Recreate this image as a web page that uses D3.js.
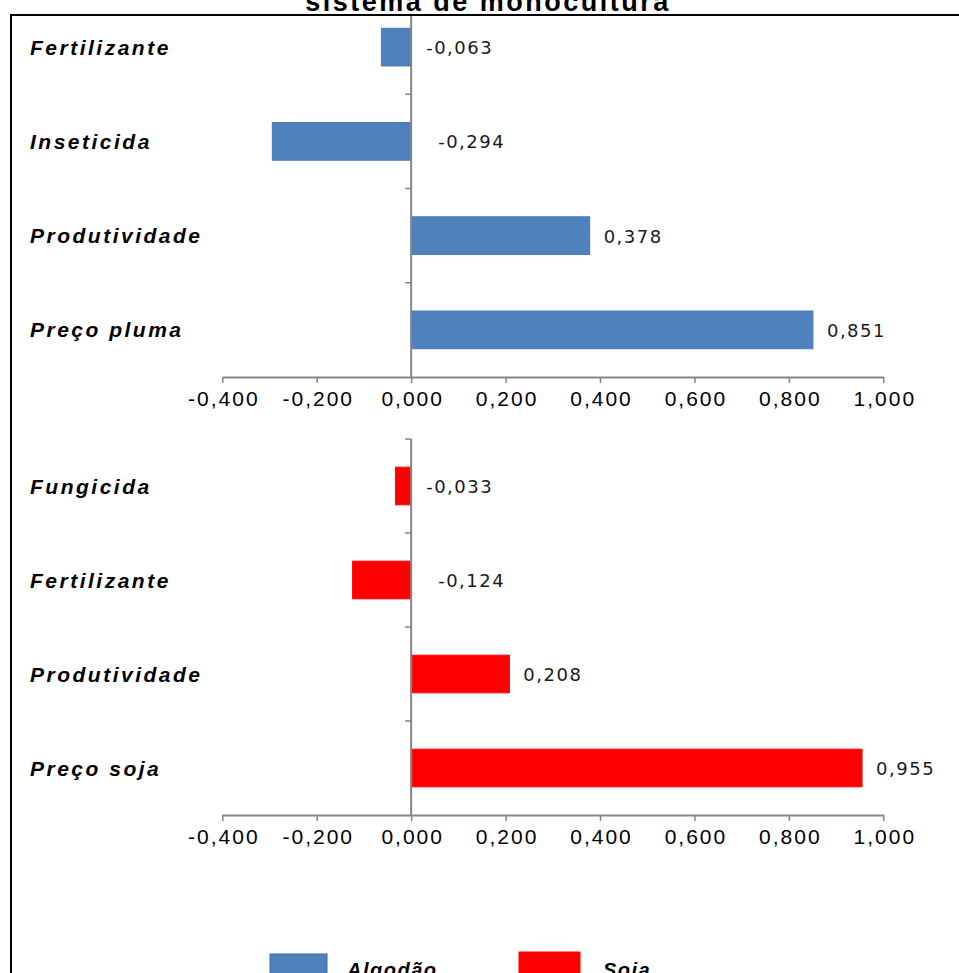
<!DOCTYPE html>
<html>
<head>
<meta charset="utf-8">
<script src="https://cdn.jsdelivr.net/npm/d3@7"></script>
<style>
  html, body { margin: 0; padding: 0; background: #fff; overflow: hidden; }
  svg { display: block; }
</style>
</head>
<body>
<svg id="chart" width="959" height="973"></svg>
<script>
// ---- data ----
const titleText = "sistema de monocultura";
const cottonCategories = ["Fertilizante", "Inseticida", "Produtividade", "Preço pluma"];
const cottonValues = [-0.063, -0.294, 0.378, 0.851];
const soyCategories = ["Fungicida", "Fertilizante", "Produtividade", "Preço soja"];
const soyValues = [-0.033, -0.124, 0.208, 0.955];
const xTickValues = [-0.4, -0.2, 0.0, 0.2, 0.4, 0.6, 0.8, 1.0];
const legendLabels = ["Algodão", "Soja"];

// ---- styles ----
const blue = "#4F81BD", blueStroke = "#4A7BB5";
const red = "#FF0000";
const axisColor = "#858585";

const svg = d3.select("#chart");
const ptBR = d3.formatLocale({decimal: ",", thousands: ".", grouping: [3], currency: ["", ""], minus: "-"});
const fmt = ptBR.format(".3f");

// clip for area inside the frame
svg.append("defs").append("clipPath").attr("id", "frameClip")
  .append("rect").attr("x", 12).attr("y", 16).attr("width", 959).attr("height", 973);

// title (partly cut off at the top, as in the reference)
svg.append("text")
  .attr("x", 488).attr("y", 11)
  .attr("text-anchor", "middle")
  .attr("font-family", "Liberation Sans, Arial, sans-serif")
  .attr("font-weight", "bold")
  .attr("font-size", 27)
  .attr("letter-spacing", 2.5)
  .text(titleText);

// frame
svg.append("rect")
  .attr("x", 11).attr("y", 15).attr("width", 1000).attr("height", 1000)
  .attr("fill", "none").attr("stroke", "#000").attr("stroke-width", 2);

const x = d3.scaleLinear().domain([-0.4, 1.0]).range([222.3, 883.3]);

function panel(categories, values, y0, y1, color, strokeColor) {
  const g = svg.append("g").attr("clip-path", "url(#frameClip)");
  const y = d3.scaleBand().domain(categories).range([y0, y1])
    .paddingInner(0.6).paddingOuter(0.3);
  const step = y.step();

  // bars
  g.selectAll("rect.bar").data(values).enter().append("rect")
    .attr("class", "bar")
    .attr("x", d => x(Math.min(0, d)))
    .attr("width", d => Math.abs(x(d) - x(0)))
    .attr("y", (d, i) => y(categories[i]))
    .attr("height", y.bandwidth())
    .attr("fill", color)
    .attr("stroke", strokeColor)
    .attr("stroke-width", 1);

  // category axis (vertical line at zero)
  g.append("line")
    .attr("x1", x(0)).attr("x2", x(0))
    .attr("y1", y0).attr("y2", y1)
    .attr("stroke", axisColor).attr("stroke-width", 2);
  const boundaries = d3.range(categories.length).map(i => y0 + i * step);
  g.selectAll("line.ctick").data(boundaries).enter().append("line")
    .attr("class", "ctick")
    .attr("x1", x(0) - 6).attr("x2", x(0))
    .attr("y1", d => d).attr("y2", d => d)
    .attr("stroke", axisColor).attr("stroke-width", 1.5);

  // category labels
  g.selectAll("text.cat").data(categories).enter().append("text")
    .attr("class", "cat")
    .attr("x", 30)
    .attr("y", d => y(d) + y.bandwidth() / 2 + 7.5)
    .attr("font-family", "Liberation Sans, Arial, sans-serif")
    .attr("font-weight", "bold")
    .attr("font-style", "italic")
    .attr("font-size", 21)
    .attr("letter-spacing", 2.5)
    .attr("fill", "#000")
    .text(d => d);

  // value labels
  g.selectAll("text.val").data(values).enter().append("text")
    .attr("class", "val")
    .attr("x", d => d >= 0 ? x(d) + 14 : x(0) + 15 + (Math.abs(d) > 0.1 ? 12 : 0))
    .attr("y", (d, i) => y(categories[i]) + y.bandwidth() / 2 + 7)
    .attr("font-family", "DejaVu Sans, Verdana, sans-serif")
    .attr("font-size", 18)
    .attr("letter-spacing", 1.5)
    .attr("fill", "#1a1a1a")
    .text(d => fmt(d));

  // value axis
  const axis = d3.axisBottom(x)
    .tickValues(xTickValues)
    .tickSize(6)
    .tickSizeOuter(0)
    .tickFormat(d => fmt(d));
  const ag = g.append("g").attr("transform", `translate(0,${y1})`).call(axis);
  ag.select(".domain").attr("stroke", axisColor).attr("stroke-width", 2);
  ag.selectAll(".tick line").attr("stroke", axisColor).attr("stroke-width", 1.5);
  ag.selectAll(".tick text")
    .attr("y", 14)
    .attr("font-family", "Liberation Sans, Arial, sans-serif")
    .attr("font-size", 21)
    .attr("letter-spacing", 2)
    .attr("fill", "#000")
    .attr("dx", 1);
}

panel(cottonCategories, cottonValues, 0, 377, blue, blueStroke);
panel(soyCategories, soyValues, 439, 815, red, red);

// legend (partly cut off at the bottom, as in the reference)
const legend = svg.append("g");
const legendItems = [
  {label: legendLabels[0], fill: blue, stroke: "#3A6AA0", rx: 270, rw: 57, ry: 954, tx: 347},
  {label: legendLabels[1], fill: red, stroke: red, rx: 519, rw: 61, ry: 952, tx: 603}
];
legendItems.forEach(it => {
  legend.append("rect")
    .attr("x", it.rx).attr("y", it.ry).attr("width", it.rw).attr("height", 40)
    .attr("fill", it.fill).attr("stroke", it.stroke).attr("stroke-width", 1);
  legend.append("text")
    .attr("x", it.tx).attr("y", 977)
    .attr("font-family", "Liberation Sans, Arial, sans-serif")
    .attr("font-weight", "bold").attr("font-style", "italic")
    .attr("font-size", 20).attr("letter-spacing", 1.5)
    .text(it.label);
});
</script>
</body>
</html>
